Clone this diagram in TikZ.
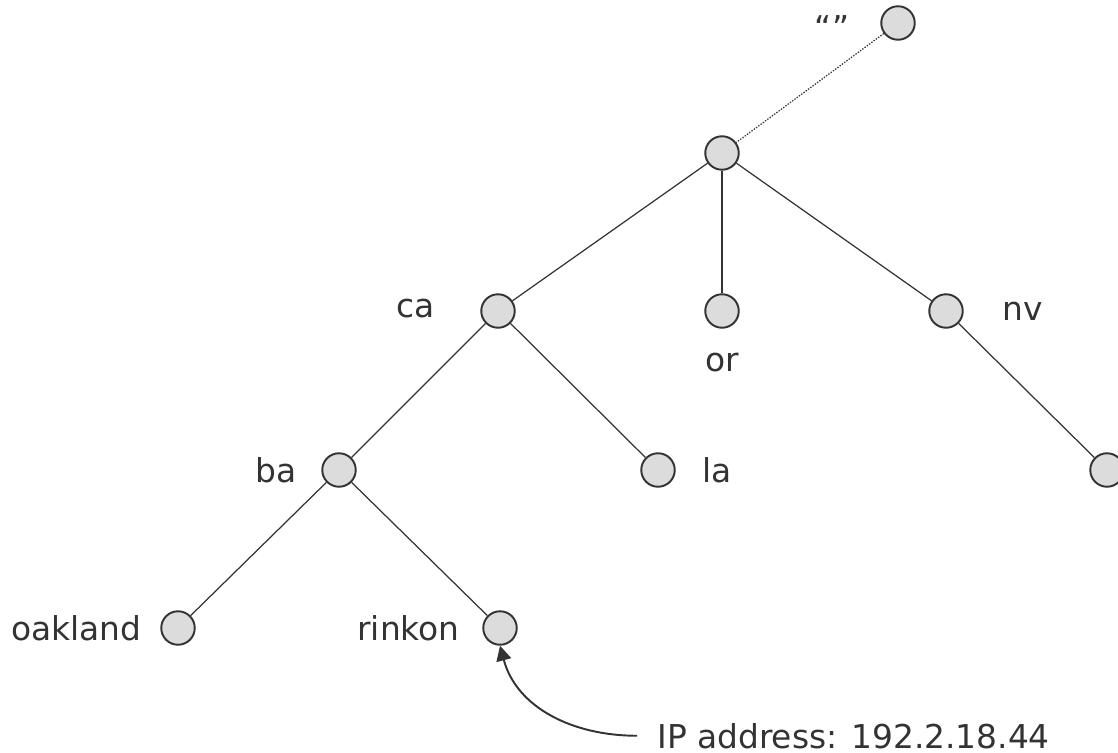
\documentclass[tikz,border=0pt]{standalone}
\usepackage{fontspec}
\setmainfont{DejaVu Sans}
\definecolor{Ink}{HTML}{333333}
\definecolor{Ball}{HTML}{DCDCDC}
\usepackage{tikz}
\usetikzlibrary{arrows.meta}

\tikzset{
  dom/.style={circle,draw=Ink,fill=Ball,line width=1.1pt,minimum size=0.67cm,inner sep=0pt},
  link/.style={draw=Ink,line width=0.7pt},
  tag/.style={text=Ink,inner sep=0pt}
}

\begin{document}
\begin{tikzpicture}[x=0.02cm,y=-0.02cm,font=\fontsize{18.7}{22}\selectfont]
  \useasboundingbox (0,0) rectangle (1118,753);

  % Root and top level
  \node[dom] (root) at (898,23) {};
  \node[tag,anchor=base] (rootname) at (832,40) {“”};
  \node[dom] (com) at (722,153) {};

  % States
  \node[dom] (ca) at (498,311) {};
  \node[tag,anchor=east] (caname) at (435,309) {ca};
  \node[dom] (or) at (722,311) {};
  \node[tag,anchor=base] (orname) at (722,371) {or};
  \node[dom] (nv) at (946,311) {};
  \node[tag,anchor=west] (nvname) at (1002,311) {nv};

  % Regions
  \node[dom] (ba) at (339,470) {};
  \node[tag,anchor=east] (baname) at (297,470) {ba};
  \node[dom] (la) at (658,470) {};
  \node[tag,anchor=west] (laname) at (702,470) {la};
  \node[dom] (nvsub) at (1107,470) {};

  % Hosts
  \node[dom] (oakland) at (178,628) {};
  \node[tag,anchor=east] (oaklandname) at (142,628) {oakland};
  \node[dom] (rinkon) at (500,628) {};
  \node[tag,anchor=east] (rinkonname) at (460,628) {rinkon};

  % Edges
  \draw[link,dash pattern=on 0.8pt off 0.8pt] (root) -- (com);
  \draw[link] (com) -- (ca);
  \draw[link] (com) -- (or);
  \draw[link] (com) -- (nv);
  \draw[link] (ca) -- (ba);
  \draw[link] (ca) -- (la);
  \draw[link] (nv) -- (nvsub);
  \draw[link] (ba) -- (oakland);
  \draw[link] (ba) -- (rinkon);

  % Address annotation
  \node[tag,anchor=base west] (ip) at (657,748) {IP address: 192.2.18.44};
  \draw[Ink,line width=1.1pt,-{Triangle[length=8.5pt,width=8.5pt]}]
    ([xshift=-0.4cm]ip.west) to[out=180,in=-75] (rinkon.south);
\end{tikzpicture}
\end{document}
